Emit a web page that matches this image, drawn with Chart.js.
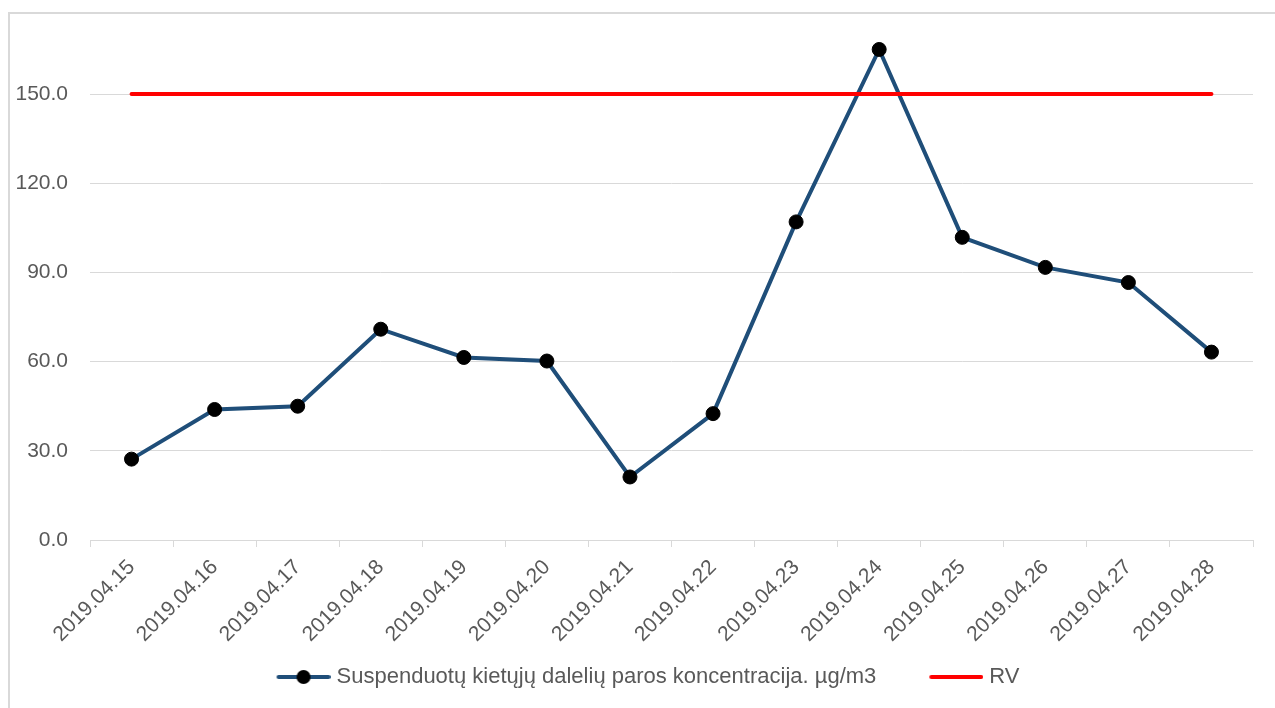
<!DOCTYPE html>
<html>
<head>
<meta charset="utf-8">
<script src="https://cdn.jsdelivr.net/npm/chart.js@4/dist/chart.umd.min.js"></script>
<style>
  html, body { margin: 0; padding: 0; background: #fff; overflow: hidden; }
  body { width: 1275px; height: 708px; position: relative; }
  #frame {
    position: absolute; left: 8px; top: 12px; width: 1400px; height: 800px;
    border: 2px solid #d9d9d9; box-sizing: border-box;
  }
  #chart { position: absolute; left: 0; top: 0; }
</style>
</head>
<body>
<div id="frame"></div>
<canvas id="chart" width="1275" height="708"></canvas>
<script>
const DATES = [
  "2019.04.15", "2019.04.16", "2019.04.17", "2019.04.18", "2019.04.19",
  "2019.04.20", "2019.04.21", "2019.04.22", "2019.04.23", "2019.04.24",
  "2019.04.25", "2019.04.26", "2019.04.27", "2019.04.28",
];
const CONCENTRATION = [27.2, 43.9, 45.0, 70.9, 61.4, 60.2, 21.2, 42.5, 107.0, 165.0, 101.8, 91.7, 86.6, 63.2];
const RV = [150, 150, 150, 150, 150, 150, 150, 150, 150, 150, 150, 150, 150, 150];
const Y_TICKS = [0, 30, 60, 90, 120, 150];
const Y_MAX = 170;

const SERIES_LABEL = "Suspenduotų kietųjų dalelių paros koncentracija. µg/m3";
const RV_LABEL = "RV";

const COLORS = {
  series: "#1f4e79",
  marker: "#000000",
  rv: "#ff0000",
  grid: "#d9d9d9",
  text: "#595959",
};

const TICK_FONT = { family: "'Liberation Sans', Arial, sans-serif", size: 21 };
const LEGEND_FONT = { family: "'Liberation Sans', Arial, sans-serif", size: 22 };

// legend glyph: transparent lead-in on the left so the items sit apart like in Excel
function legendGlyph(color, withDot) {
  const c = document.createElement("canvas");
  c.width = 102;
  c.height = 16;
  const g = c.getContext("2d");
  g.strokeStyle = color;
  g.lineWidth = 4;
  g.lineCap = "round";
  g.beginPath();
  g.moveTo(50, 8);
  g.lineTo(100, 8);
  g.stroke();
  if (withDot) {
    g.fillStyle = COLORS.marker;
    g.beginPath();
    g.arc(75, 8, 7, 0, Math.PI * 2);
    g.fill();
  }
  return c;
}

new Chart(document.getElementById("chart"), {
  type: "line",
  data: {
    labels: DATES,
    datasets: [
      {
        label: SERIES_LABEL,
        data: CONCENTRATION,
        borderColor: COLORS.series,
        borderWidth: 4,
        pointRadius: 7,
        pointBackgroundColor: COLORS.marker,
        pointBorderColor: COLORS.marker,
        pointBorderWidth: 1,
        tension: 0,
        order: 1,
      },
      {
        label: RV_LABEL,
        data: RV,
        borderColor: COLORS.rv,
        borderWidth: 4,
        borderCapStyle: "round",
        pointRadius: 0,
        tension: 0,
        order: 0,
      },
    ],
  },
  options: {
    responsive: false,
    animation: false,
    layout: { padding: { left: 0, right: 22, top: 33, bottom: 10 } },
    plugins: {
      tooltip: { enabled: false },
      legend: {
        position: "bottom",
        labels: {
          color: COLORS.text,
          font: LEGEND_FONT,
          usePointStyle: true,
          pointStyleWidth: 92,
          padding: 10,
          generateLabels: () => [
            { text: SERIES_LABEL, pointStyle: legendGlyph(COLORS.series, true), fontColor: COLORS.text, datasetIndex: 0, lineWidth: 0, strokeStyle: "transparent", fillStyle: "transparent" },
            { text: RV_LABEL, pointStyle: legendGlyph(COLORS.rv, false), fontColor: COLORS.text, datasetIndex: 1, lineWidth: 0, strokeStyle: "transparent", fillStyle: "transparent" },
          ],
        },
      },
    },
    scales: {
      x: {
        offset: true,
        grid: { offset: true, drawOnChartArea: false, drawTicks: true, tickLength: 7, color: COLORS.grid },
        border: { color: COLORS.grid, width: 1 },
        ticks: { color: COLORS.text, font: TICK_FONT, minRotation: 45, maxRotation: 45, autoSkip: false, padding: 8 },
        afterFit: (scale) => { scale.height = 116; },
      },
      y: {
        min: 0,
        max: Y_MAX,
        grid: { color: COLORS.grid, drawTicks: false },
        border: { display: false },
        ticks: { color: COLORS.text, font: TICK_FONT, padding: 22, callback: (v) => v.toFixed(1) },
        afterBuildTicks: (scale) => { scale.ticks = Y_TICKS.map((v) => ({ value: v })); },
        afterFit: (scale) => { scale.width = 90; },
      },
    },
  },
});
</script>
</body>
</html>
